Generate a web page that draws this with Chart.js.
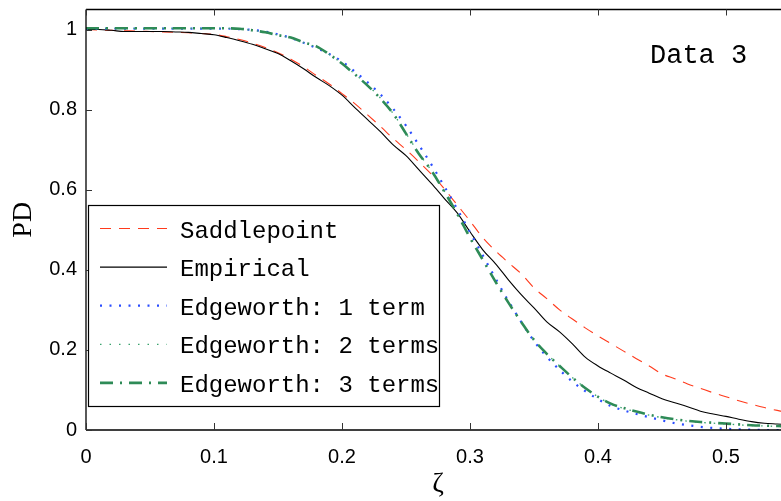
<!DOCTYPE html>
<html>
<head>
<meta charset="utf-8">
<script src="https://cdn.jsdelivr.net/npm/chart.js@4/dist/chart.umd.min.js"></script>
<style>
  html, body { margin: 0; padding: 0; background: #ffffff; overflow: hidden; }
  #wrap { width: 800px; height: 501px; }
</style>
</head>
<body>
<div id="wrap"><canvas id="c" width="800" height="501"></canvas></div>
<script>
// ---------- data ----------
const xValues = [0.00,0.01,0.02,0.03,0.04,0.05,0.06,0.07,0.08,0.09,
                 0.10,0.11,0.12,0.13,0.14,0.15,0.16,0.17,0.18,0.19,
                 0.20,0.21,0.22,0.23,0.24,0.25,0.26,0.27,0.28,0.29,
                 0.30,0.31,0.32,0.33,0.34,0.35,0.36,0.37,0.38,0.39,
                 0.40,0.41,0.42,0.43,0.44,0.45,0.46,0.47,0.48,0.49,
                 0.50,0.51,0.52,0.53,0.54,0.55];

const saddlepoint = [1.000,0.999,0.998,0.997,0.996,0.995,0.994,0.993,0.992,0.990,
                     0.988,0.982,0.975,0.966,0.955,0.942,0.926,0.907,0.885,0.864,
                     0.840,0.815,0.787,0.758,0.728,0.700,0.670,0.638,0.602,0.562,
                     0.522,0.480,0.447,0.418,0.390,0.355,0.328,0.300,0.277,0.255,
                     0.235,0.216,0.197,0.178,0.160,0.140,0.128,0.115,0.104,0.093,
                     0.083,0.073,0.064,0.056,0.049,0.043];

const empirical = [1.000,1.000,0.998,0.995,0.995,0.995,0.995,0.994,0.993,0.990,
                   0.987,0.980,0.972,0.963,0.952,0.940,0.922,0.902,0.880,0.860,
                   0.836,0.805,0.775,0.745,0.712,0.685,0.650,0.615,0.578,0.542,
                   0.495,0.450,0.415,0.375,0.338,0.305,0.270,0.245,0.215,0.182,
                   0.160,0.142,0.125,0.106,0.092,0.078,0.068,0.058,0.047,0.040,
                   0.034,0.027,0.021,0.017,0.015,0.013];

const edgeworth1 = [1.002,1.002,1.002,1.002,1.002,1.002,1.002,1.002,1.002,1.002,
                    1.002,1.002,1.001,0.999,0.995,0.988,0.979,0.967,0.954,0.939,
                    0.920,0.895,0.868,0.838,0.802,0.760,0.712,0.662,0.608,0.552,
                    0.494,0.436,0.378,0.322,0.270,0.222,0.183,0.150,0.121,0.097,
                    0.077,0.060,0.049,0.040,0.032,0.024,0.017,0.012,0.008,0.005,
                    0.003,0.002,0.001,0.000,0.000,0.000];

const edgeworth2 = [1.003,1.003,1.003,1.003,1.003,1.003,1.003,1.003,1.003,1.003,
                    1.003,1.003,1.002,0.998,0.993,0.986,0.979,0.967,0.956,0.938,
                    0.915,0.889,0.861,0.829,0.790,0.741,0.691,0.647,0.596,0.541,
                    0.481,0.426,0.371,0.319,0.270,0.226,0.190,0.160,0.131,0.105,
                    0.083,0.065,0.054,0.045,0.037,0.031,0.026,0.022,0.019,0.017,
                    0.015,0.013,0.011,0.010,0.009,0.008];

const edgeworth3 = [1.003,1.003,1.003,1.003,1.003,1.003,1.003,1.003,1.003,1.003,
                    1.003,1.003,1.002,0.998,0.993,0.986,0.980,0.968,0.958,0.938,
                    0.915,0.888,0.860,0.828,0.790,0.740,0.690,0.647,0.595,0.540,
                    0.480,0.425,0.370,0.318,0.270,0.225,0.190,0.160,0.131,0.105,
                    0.083,0.066,0.055,0.046,0.038,0.032,0.027,0.023,0.020,0.018,
                    0.016,0.014,0.012,0.011,0.010,0.009];

const seriesNames = ["Saddlepoint","Empirical","Edgeworth: 1 term","Edgeworth: 2 terms","Edgeworth: 3 terms"];
const xTicks = [0, 0.1, 0.2, 0.3, 0.4, 0.5];
const xTickLabels = ["0","0.1","0.2","0.3","0.4","0.5"];
const yTicks = [0, 0.2, 0.4, 0.6, 0.8, 1];
const yTickLabels = ["0","0.2","0.4","0.6","0.8","1"];
const annotationText = "Data 3";
const xTitle = "\u03B6";
const yTitle = "PD";

// ---------- chart ----------
function pts(arr) { return xValues.map((x, i) => ({ x: x, y: arr[i] })); }

const styles = [
  { color: "#ff3a1c", width: 1.1, dash: [11, 8], order: 5 },
  { color: "#000000", width: 1.1, dash: [], order: 4 },
  { color: "#2a4dff", width: 2.2, dash: [2, 7.5], order: 3 },
  { color: "#3aa36e", width: 1.3, dash: [1.5, 8], order: 2 },
  { color: "#2e8b57", width: 2.6, dash: [13, 7, 2, 7], order: 1 }
];
const seriesData = [saddlepoint, empirical, edgeworth1, edgeworth2, edgeworth3];

const datasets = seriesData.map((arr, i) => ({
  label: seriesNames[i],
  data: pts(arr),
  borderColor: styles[i].color,
  borderWidth: styles[i].width,
  borderDash: styles[i].dash,
  pointRadius: 0,
  fill: false,
  tension: 0,
  cubicInterpolationMode: 'monotone',
  order: styles[i].order
}));

const boxPlugin = {
  id: 'boxPlugin',
  afterDatasetsDraw(chart) {
    const ctx = chart.ctx;
    const xs = chart.scales.x, ys = chart.scales.y;
    const ca = chart.chartArea;
    ctx.save();
    ctx.strokeStyle = "#000";
    ctx.lineWidth = 1.3;
    ctx.setLineDash([]);
    // axes box
    ctx.beginPath();
    ctx.moveTo(ca.left, ca.top); ctx.lineTo(ca.right, ca.top);
    ctx.moveTo(ca.left, ca.top); ctx.lineTo(ca.left, ca.bottom);
    ctx.moveTo(ca.left, ca.bottom); ctx.lineTo(ca.right, ca.bottom);
    ctx.moveTo(ca.right, ca.top); ctx.lineTo(ca.right, ca.bottom);
    ctx.stroke();
    // inside ticks
    ctx.lineWidth = 1;
    ctx.strokeStyle = "#333";
    ctx.beginPath();
    xTicks.forEach(v => {
      const px = Math.round(xs.getPixelForValue(v)) + 0.5;
      ctx.moveTo(px, ca.bottom); ctx.lineTo(px, ca.bottom - 7);
      ctx.moveTo(px, ca.top); ctx.lineTo(px, ca.top + 6);
    });
    yTicks.forEach(v => {
      const py = Math.round(ys.getPixelForValue(v)) + 0.5;
      ctx.moveTo(ca.left, py); ctx.lineTo(ca.left + 6, py);
      ctx.moveTo(ca.right, py); ctx.lineTo(ca.right - 6, py);
    });
    ctx.stroke();

    // annotation
    ctx.fillStyle = "#000";
    ctx.font = "27px 'Liberation Mono', 'DejaVu Sans Mono', monospace";
    ctx.textAlign = "left";
    ctx.textBaseline = "alphabetic";
    ctx.fillText(annotationText, 650, 63);

    // legend
    const bx = 88.5, by = 205.5, bw = 351, bh = 201;
    ctx.fillStyle = "#fff";
    ctx.fillRect(bx, by, bw, bh);
    ctx.strokeStyle = "#000";
    ctx.lineWidth = 1.2;
    ctx.strokeRect(bx, by, bw, bh);
    ctx.font = "24px 'Liberation Mono', 'DejaVu Sans Mono', monospace";
    chart.data.datasets.forEach((ds, i) => {
      const ly = 228.5 + i * 38.6;
      ctx.save();
      ctx.strokeStyle = ds.borderColor;
      ctx.lineWidth = ds.borderWidth;
      ctx.setLineDash(ds.borderDash);
      ctx.beginPath();
      ctx.moveTo(100, ly); ctx.lineTo(167, ly);
      ctx.stroke();
      ctx.restore();
      ctx.fillStyle = "#000";
      ctx.textBaseline = "alphabetic";
      ctx.fillText(ds.label, 180, ly + 9);
    });
    ctx.restore();
  }
};

new Chart(document.getElementById('c'), {
  type: 'line',
  data: { datasets: datasets },
  options: {
    responsive: false,
    animation: false,
    devicePixelRatio: 1,
    layout: { padding: { left: 0, right: 10, top: 9.5, bottom: 0 } },
    plugins: { legend: { display: false }, tooltip: { enabled: false } },
    scales: {
      x: {
        type: 'linear', min: 0, max: 0.55,
        afterFit(s) { s.height = 71; s.paddingLeft = 0; s.paddingRight = 0; },
        afterBuildTicks(s) { s.ticks = xTicks.map(v => ({ value: v })); },
        grid: { display: false, drawTicks: false },
        border: { display: false },
        ticks: {
          padding: 15, color: "#000",
          font: { family: "'Liberation Sans', Arial, sans-serif", size: 20 },
          callback: (v) => { const i = xTicks.findIndex(t => Math.abs(t - v) < 1e-9); return i >= 0 ? xTickLabels[i] : ''; },
          maxRotation: 0, autoSkip: false
        },
        title: {
          display: true, text: xTitle, color: "#000",
          font: { family: "'Liberation Serif', 'Times New Roman', serif", size: 28, lineHeight: 1 },
          padding: { top: 0, bottom: 2 }
        }
      },
      y: {
        type: 'linear', min: 0, max: 1.05,
        afterFit(s) { s.width = 86; s.paddingTop = 0; s.paddingBottom = 0; },
        afterBuildTicks(s) { s.ticks = yTicks.map(v => ({ value: v })); },
        grid: { display: false, drawTicks: false },
        border: { display: false },
        ticks: {
          padding: 9, color: "#000",
          font: { family: "'Liberation Sans', Arial, sans-serif", size: 20 },
          callback: (v) => { const i = yTicks.findIndex(t => Math.abs(t - v) < 1e-9); return i >= 0 ? yTickLabels[i] : ''; },
          autoSkip: false
        },
        title: {
          display: true, text: yTitle, color: "#000",
          font: { family: "'Liberation Serif', 'Times New Roman', serif", size: 28, lineHeight: 1.2 },
          padding: { top: 7, bottom: 0 }
        }
      }
    }
  },
  plugins: [boxPlugin]
});
</script>
</body>
</html>
